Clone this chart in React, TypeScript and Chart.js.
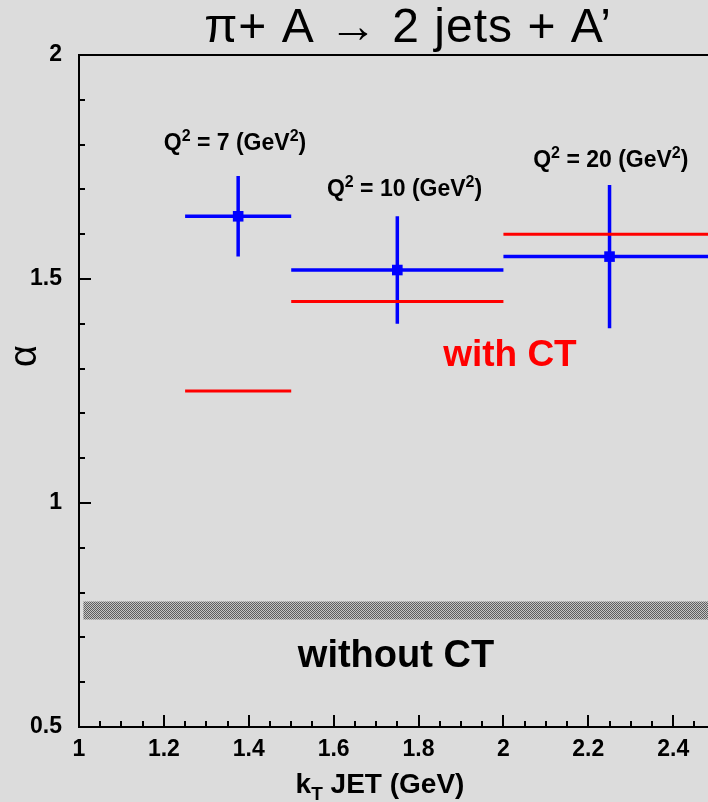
import React, { useEffect, useRef } from 'react';
import { Chart, registerables } from 'chart.js';

Chart.register(...registerables);

// ---------- data ----------
const TITLE = 'π+ A → 2 jets + A’';
const Y_TITLE = 'α';
const X_TITLE_PARTS: [string, number][] = [['k', 0], ['T', -1], [' JET (GeV)', 0]];

const xTicks = [1, 1.2, 1.4, 1.6, 1.8, 2, 2.2, 2.4];
const yTicks = [0.5, 1, 1.5, 2];
const X_MIN = 1;
const X_MAX = 2.482;
const Y_MIN = 0.5;
const Y_MAX = 2;
const X_MINOR = 0.05;
const Y_MINOR = 0.1;

const binLow = [1.25, 1.5, 2.0];
const binHigh = [1.5, 2.0, 2.5];
const binCenter = [1.375, 1.75, 2.25];
const alphaMeasured = [1.64, 1.52, 1.55];
const alphaErr = [0.09, 0.12, 0.16];
const alphaWithCT = [1.25, 1.45, 1.6];
const q2Values = [7, 10, 20];
// label anchors (data coords: centre x, baseline y)
const q2LabelX = [1.3675, 1.767, 2.253];
const q2LabelY = [1.788, 1.685, 1.75];

const noCTLow = 0.74;
const noCTHigh = 0.78;
const noCTStart = 1.01;
const noCTEnd = 2.5;

const WITH_CT = 'with CT';
const WITHOUT_CT = 'without CT';
const withCTPos = { x: 2.0153, y: 1.3058 };
const withoutCTPos = { x: 1.7468, y: 0.634 };

// ---------- style ----------
const FAMILY = '"Liberation Sans", Arial, Helvetica, sans-serif';
const BG = '#dcdcdc';
const BLUE = '#0000ff';
const RED = '#ff0000';

type Part = [string, number];

function drawRich(
  ctx: CanvasRenderingContext2D,
  parts: Part[],
  cx: number,
  baseline: number,
  size: number,
  weight: string,
  color: string,
  small = 0.65,
) {
  const fontFor = (m: number) => `${weight} ${m !== 0 ? Math.round(size * small) : size}px ${FAMILY}`;
  const widths = parts.map(([t, m]) => {
    ctx.font = fontFor(m);
    return ctx.measureText(t).width;
  });
  const total = widths.reduce((a, b) => a + b, 0);
  let x = cx - total / 2;
  ctx.fillStyle = color;
  ctx.textAlign = 'left';
  ctx.textBaseline = 'alphabetic';
  parts.forEach(([t, m], i) => {
    ctx.font = fontFor(m);
    const dy = m === 1 ? -size * 0.38 : m === -1 ? size * 0.24 : 0;
    ctx.fillText(t, x, baseline + dy);
    x += widths[i];
  });
}

const decorPlugin = {
  id: 'decor',
  afterDatasetsDraw(chart: any) {
    const { ctx, chartArea, scales } = chart;
    const { left, top, right, bottom } = chartArea;
    const xs = scales.x;
    const ys = scales.y;
    ctx.save();
    // frame
    ctx.strokeStyle = '#000';
    ctx.lineWidth = 2;
    ctx.beginPath();
    ctx.moveTo(right, top);
    ctx.lineTo(left, top);
    ctx.lineTo(left, bottom);
    ctx.lineTo(right, bottom);
    ctx.stroke();
    // inward ticks
    const nY = Math.round((Y_MAX - Y_MIN) / Y_MINOR);
    for (let i = 0; i <= nY; i++) {
      const v = Y_MIN + i * Y_MINOR;
      const major = yTicks.some((t) => Math.abs(t - v) < 1e-6);
      const py = Math.round(ys.getPixelForValue(v));
      ctx.beginPath();
      ctx.moveTo(left, py);
      ctx.lineTo(left + (major ? 12 : 6), py);
      ctx.stroke();
    }
    const nX = Math.floor((X_MAX - X_MIN) / X_MINOR + 1e-6);
    for (let i = 0; i <= nX; i++) {
      const v = X_MIN + i * X_MINOR;
      const major = xTicks.some((t) => Math.abs(t - v) < 1e-6);
      const px = Math.round(xs.getPixelForValue(v));
      ctx.beginPath();
      ctx.moveTo(px, bottom);
      ctx.lineTo(px, bottom - (major ? 12 : 6));
      ctx.stroke();
    }
    // Q^2 labels
    q2Values.forEach((q, i) => {
      drawRich(
        ctx,
        [['Q', 0], ['2', 1], [` = ${q} (GeV`, 0], ['2', 1], [')', 0]],
        xs.getPixelForValue(q2LabelX[i]),
        ys.getPixelForValue(q2LabelY[i]),
        23,
        'bold',
        '#000',
        0.68,
      );
    });
    // with / without CT
    ctx.textAlign = 'center';
    ctx.textBaseline = 'alphabetic';
    ctx.font = `bold 37px ${FAMILY}`;
    ctx.fillStyle = RED;
    ctx.fillText(WITH_CT, xs.getPixelForValue(withCTPos.x), ys.getPixelForValue(withCTPos.y));
    ctx.font = `bold 38px ${FAMILY}`;
    ctx.fillStyle = '#000';
    ctx.fillText(WITHOUT_CT, xs.getPixelForValue(withoutCTPos.x), ys.getPixelForValue(withoutCTPos.y));
    // title
    ctx.font = `normal 48px ${FAMILY}`;
    ctx.fillStyle = '#000';
    try {
      (ctx as any).letterSpacing = '1px';
    } catch (e) {
      /* ignore */
    }
    ctx.fillText(TITLE, 408, 42);
    try {
      (ctx as any).letterSpacing = '0px';
    } catch (e) {
      /* ignore */
    }
    // x title
    drawRich(ctx, X_TITLE_PARTS, 380, 793, 28, 'bold', '#000', 0.68);
    // y title
    ctx.save();
    ctx.translate(26, 356);
    ctx.rotate(-Math.PI / 2);
    ctx.font = `normal 38px ${FAMILY}`;
    ctx.textAlign = 'center';
    ctx.textBaseline = 'middle';
    ctx.fillText(Y_TITLE, 0, 0);
    ctx.restore();
    ctx.restore();
  },
};

function makePattern(): CanvasPattern | string {
  const c = document.createElement('canvas');
  c.width = 2;
  c.height = 2;
  const g = c.getContext('2d');
  if (!g) return '#999';
  g.fillStyle = '#c4c4c4';
  g.fillRect(0, 0, 2, 2);
  g.fillStyle = '#5e5e5e';
  g.fillRect(0, 0, 1, 1);
  g.fillRect(1, 1, 1, 1);
  const p = g.createPattern(c, 'repeat');
  return p || '#999';
}

export default function App() {
  const ref = useRef<HTMLCanvasElement | null>(null);

  useEffect(() => {
    if (!ref.current) return;
    const pattern = makePattern();

    const redSeg: any[] = [];
    const hSeg: any[] = [];
    const vSeg: any[] = [];
    binLow.forEach((lo, i) => {
      redSeg.push({ x: lo, y: alphaWithCT[i] }, { x: binHigh[i], y: alphaWithCT[i] }, { x: binHigh[i], y: null });
      hSeg.push({ x: lo, y: alphaMeasured[i] }, { x: binHigh[i], y: alphaMeasured[i] }, { x: binHigh[i], y: null });
      vSeg.push(
        { x: binCenter[i], y: alphaMeasured[i] - alphaErr[i] },
        { x: binCenter[i], y: alphaMeasured[i] + alphaErr[i] },
        { x: binCenter[i], y: null },
      );
    });
    const points = binCenter.map((x, i) => ({ x, y: alphaMeasured[i] }));

    const chart = new Chart(ref.current, {
      type: 'line',
      data: {
        datasets: [
          {
            label: 'without CT low',
            data: [{ x: noCTStart, y: noCTLow }, { x: noCTEnd, y: noCTLow }],
            borderWidth: 0,
            pointRadius: 0,
            fill: false,
          },
          {
            label: 'without CT',
            data: [{ x: noCTStart, y: noCTHigh }, { x: noCTEnd, y: noCTHigh }],
            borderWidth: 0,
            pointRadius: 0,
            fill: '-1',
            backgroundColor: pattern as any,
          },
          {
            label: 'with CT',
            data: redSeg,
            borderColor: RED,
            borderWidth: 3,
            pointRadius: 0,
            fill: false,
          },
          {
            label: 'kT bin',
            data: hSeg,
            borderColor: BLUE,
            borderWidth: 3.5,
            pointRadius: 0,
            fill: false,
          },
          {
            label: 'error',
            data: vSeg,
            borderColor: BLUE,
            borderWidth: 3.5,
            pointRadius: 0,
            fill: false,
          },
          {
            label: 'measured',
            data: points,
            showLine: false,
            pointStyle: 'rect',
            pointRadius: 7.5,
            pointBackgroundColor: BLUE,
            pointBorderWidth: 0,
            borderColor: BLUE,
          },
        ],
      },
      options: {
        animation: false,
        responsive: false,
        devicePixelRatio: 1,
        layout: { autoPadding: false, padding: { top: 55, left: 0, right: 0, bottom: 0 } },
        plugins: { legend: { display: false }, tooltip: { enabled: false } },
        scales: {
          x: {
            type: 'linear',
            min: X_MIN,
            max: X_MAX,
            grid: { display: false, drawTicks: false },
            border: { display: false },
            afterBuildTicks: (s: any) => {
              s.ticks = xTicks.map((value) => ({ value }));
            },
            afterFit: (s: any) => {
              s.height = 75;
              s.paddingLeft = 0;
              s.paddingRight = 0;
            },
            ticks: {
              autoSkip: false,
              maxRotation: 0,
              padding: 9,
              color: '#000',
              font: { family: FAMILY, size: 23, weight: 'bold' },
              callback: (v: any) => String(v),
            },
          },
          y: {
            type: 'linear',
            min: Y_MIN,
            max: Y_MAX,
            grid: { display: false, drawTicks: false },
            border: { display: false },
            afterBuildTicks: (s: any) => {
              s.ticks = yTicks.map((value) => ({ value }));
            },
            afterFit: (s: any) => {
              s.width = 79;
              s.paddingTop = 0;
              s.paddingBottom = 0;
            },
            ticks: {
              padding: 17,
              color: '#000',
              font: { family: FAMILY, size: 23, weight: 'bold' },
              callback: (v: any) => String(v),
            },
          },
        },
      },
      plugins: [decorPlugin],
    });
    return () => chart.destroy();
  }, []);

  return (
    <div style={{ position: 'fixed', left: 0, top: 0, width: 708, height: 802, background: BG, overflow: 'hidden' }}>
      <canvas ref={ref} width={708} height={802} style={{ display: 'block', width: 708, height: 802 }} />
    </div>
  );
}
